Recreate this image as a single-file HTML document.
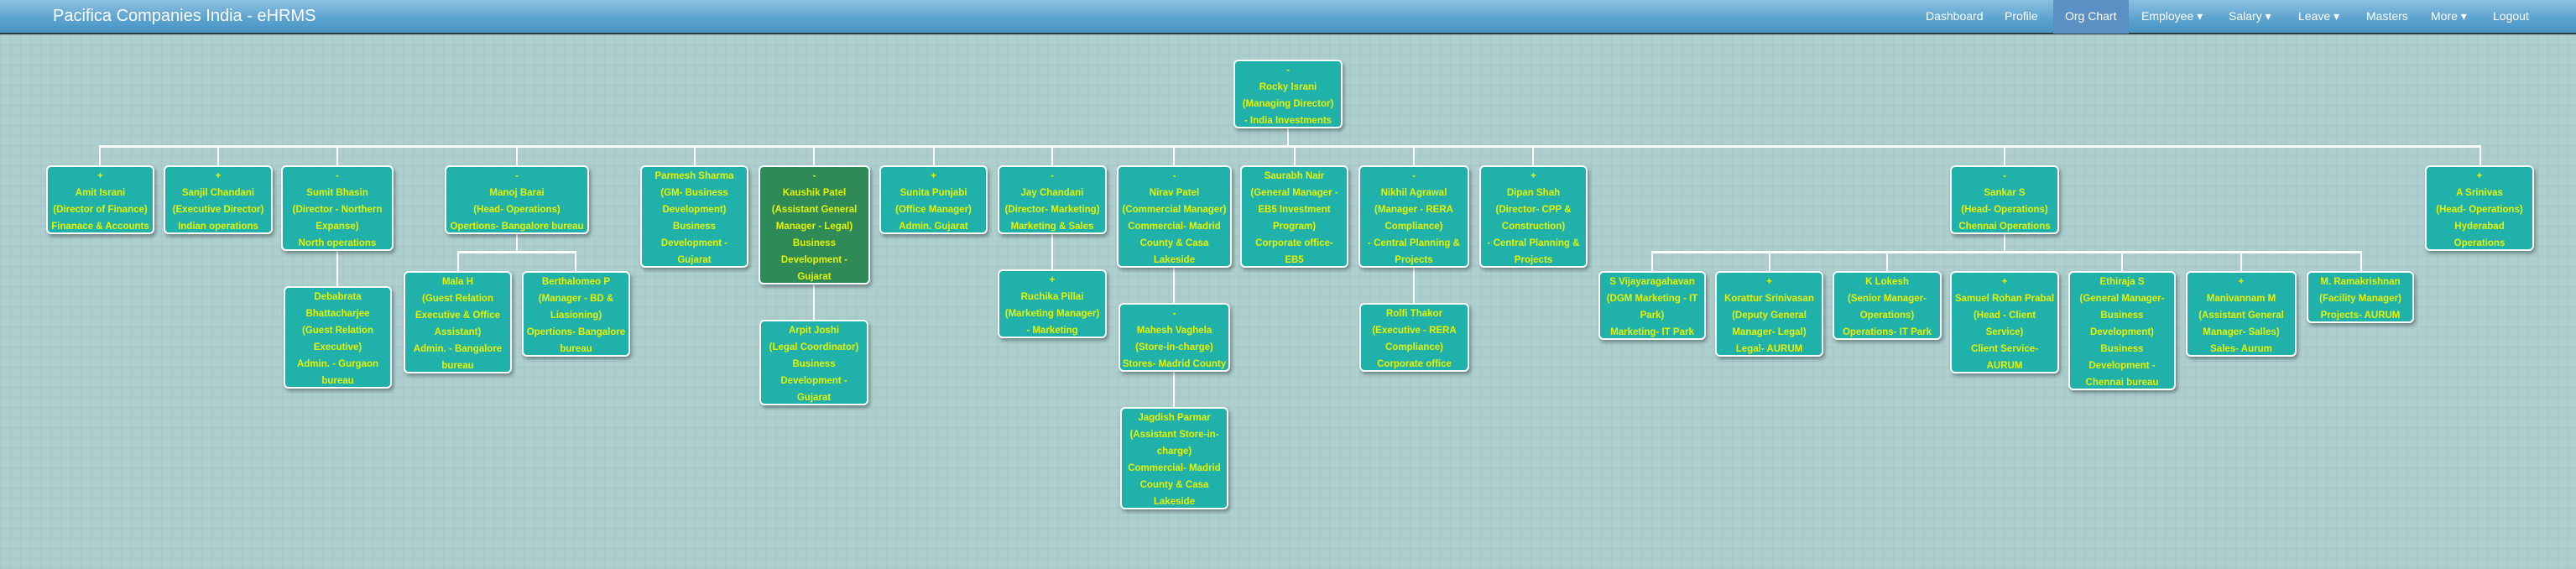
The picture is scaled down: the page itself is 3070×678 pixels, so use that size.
<!DOCTYPE html>
<html><head><meta charset="utf-8"><style>
*{margin:0;padding:0;box-sizing:border-box}
body{width:3070px;height:678px;overflow:hidden;position:relative;font-family:"Liberation Sans",sans-serif;
background-color:#abcdcd;
background-image:repeating-linear-gradient(0deg,rgba(70,120,120,.10) 0 1px,transparent 1px 12px),repeating-linear-gradient(90deg,rgba(70,120,120,.10) 0 1px,transparent 1px 12px),repeating-linear-gradient(0deg,rgba(255,255,255,.06) 0 1px,transparent 1px 4px),repeating-linear-gradient(90deg,rgba(255,255,255,.06) 0 1px,transparent 1px 4px);}
.nav{position:absolute;left:0;top:0;width:3070px;height:41px;background:linear-gradient(#8cc0e0,#5aa2cf 60%,#4b93c2);border-bottom:2px solid #2a3a44}
.title{position:absolute;left:63px;top:8px;color:#fff;font-size:20px;white-space:nowrap}
.ni{position:absolute;top:11px;color:#fff;font-size:14px;white-space:nowrap}
.act{position:absolute;left:2447px;top:0;width:90px;height:40px;background:#5b90c4}
.b{position:absolute;background:#20b2aa;border:2px solid #fff;border-radius:6px;box-shadow:2px 3px 4px rgba(0,0,0,.35);color:#e6f200;font-size:11.5px;line-height:20px;padding-top:1px;text-align:center;white-space:nowrap;overflow:hidden;font-weight:bold}
.g{background:#2e8b57}
.h{position:absolute;background:#fff;height:3px}
.v{position:absolute;background:#fff;width:2px}
</style></head><body>
<div class="nav"></div>
<div class="act"></div>
<div class="title">Pacifica Companies India - eHRMS</div>
<div class="ni" style="left:2295px">Dashboard</div>
<div class="ni" style="left:2389px">Profile</div>
<div class="ni" style="left:2461px">Org Chart</div>
<div class="ni" style="left:2552px">Employee ▾</div>
<div class="ni" style="left:2656px">Salary ▾</div>
<div class="ni" style="left:2739px">Leave ▾</div>
<div class="ni" style="left:2820px">Masters</div>
<div class="ni" style="left:2897px">More ▾</div>
<div class="ni" style="left:2971px">Logout</div>

<div class="v" style="left:1534px;top:153px;height:22px"></div>
<div class="h" style="left:118px;top:173px;width:2839px"></div>
<div class="v" style="left:118px;top:174px;height:23px"></div>
<div class="v" style="left:259px;top:174px;height:23px"></div>
<div class="v" style="left:401px;top:174px;height:23px"></div>
<div class="v" style="left:615px;top:174px;height:23px"></div>
<div class="v" style="left:827px;top:174px;height:23px"></div>
<div class="v" style="left:969px;top:174px;height:23px"></div>
<div class="v" style="left:1112px;top:174px;height:23px"></div>
<div class="v" style="left:1253px;top:174px;height:23px"></div>
<div class="v" style="left:1398px;top:174px;height:23px"></div>
<div class="v" style="left:1542px;top:174px;height:23px"></div>
<div class="v" style="left:1684px;top:174px;height:23px"></div>
<div class="v" style="left:1826px;top:174px;height:23px"></div>
<div class="v" style="left:2388px;top:174px;height:23px"></div>
<div class="v" style="left:2955px;top:174px;height:23px"></div>

<div class="v" style="left:401px;top:299px;height:42px"></div>
<div class="v" style="left:969px;top:338px;height:43px"></div>
<div class="v" style="left:1253px;top:278px;height:43px"></div>
<div class="v" style="left:1398px;top:318px;height:43px"></div>
<div class="v" style="left:1398px;top:443px;height:42px"></div>
<div class="v" style="left:1684px;top:318px;height:43px"></div>

<div class="v" style="left:615px;top:278px;height:22px"></div>
<div class="h" style="left:545px;top:299px;width:142px"></div>
<div class="v" style="left:545px;top:300px;height:23px"></div>
<div class="v" style="left:685px;top:300px;height:23px"></div>

<div class="v" style="left:2388px;top:278px;height:22px"></div>
<div class="h" style="left:1968px;top:299px;width:847px"></div>
<div class="v" style="left:1968px;top:300px;height:23px"></div>
<div class="v" style="left:2108px;top:300px;height:23px"></div>
<div class="v" style="left:2248px;top:300px;height:23px"></div>
<div class="v" style="left:2528px;top:300px;height:23px"></div>
<div class="v" style="left:2670px;top:300px;height:23px"></div>
<div class="v" style="left:2813px;top:300px;height:23px"></div>

<div class="b" style="left:1470px;top:71px;width:130px;height:82px">-<br>Rocky Israni<br>(Managing Director)<br>- India Investments</div>

<div class="b" style="left:55px;top:197px;width:129px;height:82px">+<br>Amit Israni<br>(Director of Finance)<br>Finanace &amp; Accounts</div>
<div class="b" style="left:195px;top:197px;width:130px;height:82px">+<br>Sanjil Chandani<br>(Executive Director)<br>Indian operations</div>
<div class="b" style="left:335px;top:197px;width:134px;height:102px">-<br>Sumit Bhasin<br>(Director - Northern<br>Expanse)<br>North operations</div>
<div class="b" style="left:530px;top:197px;width:172px;height:82px">-<br>Manoj Barai<br>(Head- Operations)<br>Opertions- Bangalore bureau</div>
<div class="b" style="left:763px;top:197px;width:129px;height:122px">Parmesh Sharma<br>(GM- Business<br>Development)<br>Business<br>Development -<br>Gujarat</div>
<div class="b g" style="left:904px;top:197px;width:133px;height:142px">-<br>Kaushik Patel<br>(Assistant General<br>Manager - Legal)<br>Business<br>Development -<br>Gujarat</div>
<div class="b" style="left:1048px;top:197px;width:129px;height:82px">+<br>Sunita Punjabi<br>(Office Manager)<br>Admin. Gujarat</div>
<div class="b" style="left:1189px;top:197px;width:130px;height:82px">-<br>Jay Chandani<br>(Director- Marketing)<br>Marketing &amp; Sales</div>
<div class="b" style="left:1331px;top:197px;width:137px;height:122px">-<br>Nirav Patel<br>(Commercial Manager)<br>Commercial- Madrid<br>County &amp; Casa<br>Lakeside</div>
<div class="b" style="left:1478px;top:197px;width:129px;height:122px">Saurabh Nair<br>(General Manager -<br>EB5 Investment<br>Program)<br>Corporate office-<br>EB5</div>
<div class="b" style="left:1619px;top:197px;width:132px;height:122px">-<br>Nikhil Agrawal<br>(Manager - RERA<br>Compliance)<br>- Central Planning &amp;<br>Projects</div>
<div class="b" style="left:1763px;top:197px;width:129px;height:122px">+<br>Dipan Shah<br>(Director- CPP &amp;<br>Construction)<br>- Central Planning &amp;<br>Projects</div>
<div class="b" style="left:2324px;top:197px;width:130px;height:82px">-<br>Sankar S<br>(Head- Operations)<br>Chennai Operations</div>
<div class="b" style="left:2890px;top:197px;width:130px;height:102px">+<br>A Srinivas<br>(Head- Operations)<br>Hyderabad<br>Operations</div>

<div class="b" style="left:338px;top:341px;width:129px;height:122px">Debabrata<br>Bhattacharjee<br>(Guest Relation<br>Executive)<br>Admin. - Gurgaon<br>bureau</div>
<div class="b" style="left:481px;top:323px;width:129px;height:122px">Mala H<br>(Guest Relation<br>Executive &amp; Office<br>Assistant)<br>Admin. - Bangalore<br>bureau</div>
<div class="b" style="left:622px;top:323px;width:129px;height:102px">Berthalomeo P<br>(Manager - BD &amp;<br>Liasioning)<br>Opertions- Bangalore<br>bureau</div>
<div class="b" style="left:905px;top:381px;width:130px;height:102px">Arpit Joshi<br>(Legal Coordinator)<br>Business<br>Development -<br>Gujarat</div>
<div class="b" style="left:1189px;top:321px;width:130px;height:82px">+<br>Ruchika Pillai<br>(Marketing Manager)<br>- Marketing</div>
<div class="b" style="left:1333px;top:361px;width:133px;height:82px">-<br>Mahesh Vaghela<br>(Store-in-charge)<br>Stores- Madrid County</div>
<div class="b" style="left:1335px;top:485px;width:129px;height:122px">Jagdish Parmar<br>(Assistant Store-in-<br>charge)<br>Commercial- Madrid<br>County &amp; Casa<br>Lakeside</div>
<div class="b" style="left:1620px;top:361px;width:131px;height:82px">Rolfi Thakor<br>(Executive - RERA<br>Compliance)<br>Corporate office</div>

<div class="b" style="left:1905px;top:323px;width:128px;height:82px">S Vijayaragahavan<br>(DGM Marketing - IT<br>Park)<br>Marketing- IT Park</div>
<div class="b" style="left:2044px;top:323px;width:129px;height:102px">+<br>Korattur Srinivasan<br>(Deputy General<br>Manager- Legal)<br>Legal- AURUM</div>
<div class="b" style="left:2184px;top:323px;width:130px;height:82px">K Lokesh<br>(Senior Manager-<br>Operations)<br>Operations- IT Park</div>
<div class="b" style="left:2324px;top:323px;width:130px;height:122px">+<br>Samuel Rohan Prabal<br>(Head - Client<br>Service)<br>Client Service-<br>AURUM</div>
<div class="b" style="left:2465px;top:323px;width:128px;height:142px">Ethiraja S<br>(General Manager-<br>Business<br>Development)<br>Business<br>Development -<br>Chennai bureau</div>
<div class="b" style="left:2605px;top:323px;width:132px;height:102px">+<br>Manivannam M<br>(Assistant General<br>Manager- Salles)<br>Sales- Aurum</div>
<div class="b" style="left:2749px;top:323px;width:128px;height:62px">M. Ramakrishnan<br>(Facility Manager)<br>Projects- AURUM</div>
</body></html>
